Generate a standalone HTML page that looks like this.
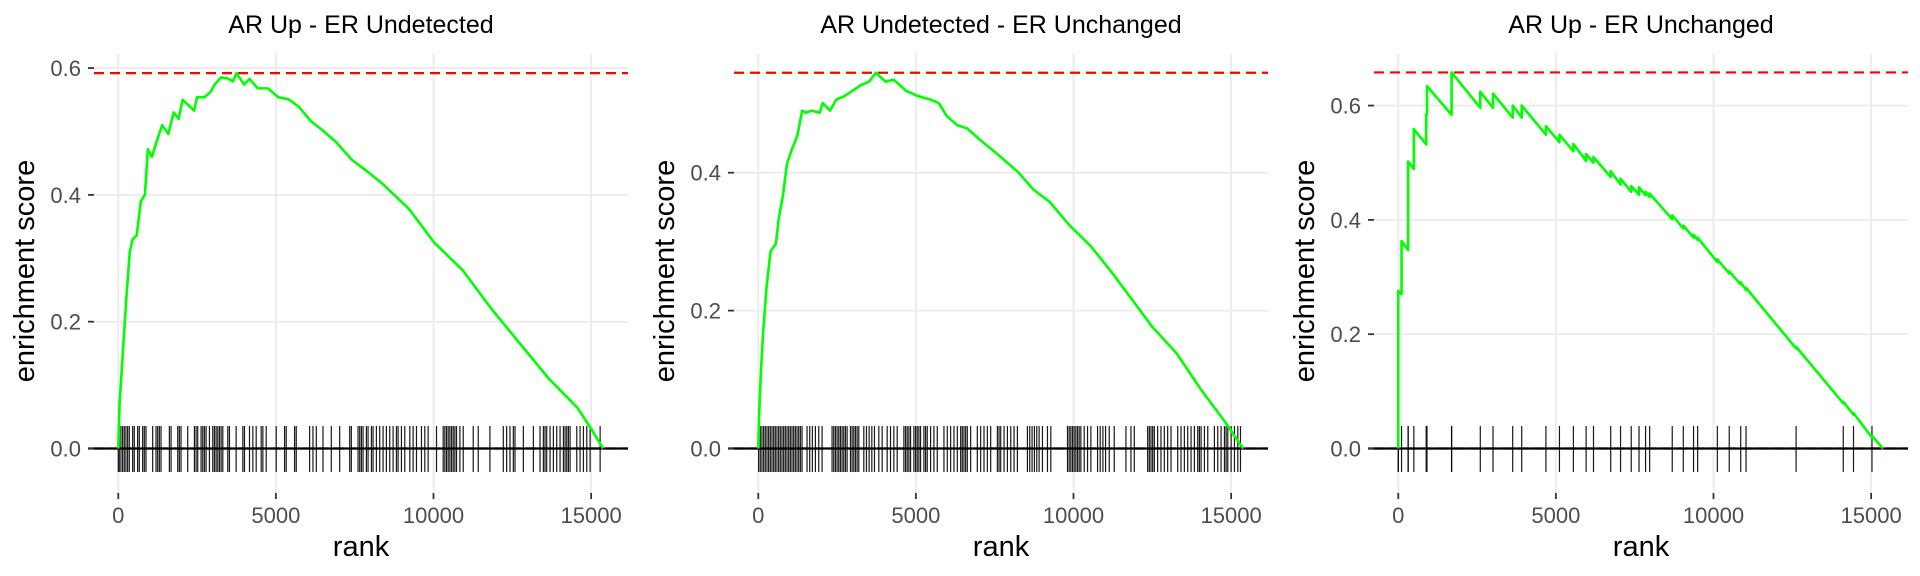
<!DOCTYPE html>
<html><head><meta charset="utf-8">
<style>
html,body{margin:0;padding:0;background:#fff;}
svg{display:block;font-family:"Liberation Sans",Arial,sans-serif;}
</style></head>
<body>
<svg id="chart" width="1920" height="576" viewBox="0 0 1920 576" xmlns="http://www.w3.org/2000/svg"></svg>
<script>
// ---- data ----
const titles = ["AR Up - ER Undetected", "AR Undetected - ER Unchanged", "AR Up - ER Unchanged"];
const xTicks = [0, 5000, 10000, 15000];
const yTicks1 = [0.0, 0.2, 0.4, 0.6];
const yTicks2 = [0.0, 0.2, 0.4];
const yTicks3 = [0.0, 0.2, 0.4, 0.6];
const maxES = [0.592, 0.545, 0.658];
const nGenes = 15378;

const ranks1 = [0,40,130,260,364,455,585,715,845,937,1067,1236,1392,1587,1756,1912,2043,2212,2407,2498,2732,2927,3057,3252,3448,3643,3747,3995,4164,4424,4749,5074,5400,5725,6115,6505,6895,7416,7871,8392,9237,10018,10929,11840,12750,13661,14572,15027,15378];
const es1 = [0,0.07,0.14,0.24,0.31,0.33,0.336,0.39,0.40,0.472,0.46,0.487,0.51,0.496,0.53,0.52,0.55,0.542,0.533,0.554,0.554,0.562,0.574,0.585,0.584,0.579,0.592,0.574,0.583,0.568,0.568,0.554,0.551,0.539,0.516,0.501,0.484,0.455,0.438,0.417,0.377,0.325,0.281,0.22,0.165,0.11,0.064,0.029,0];
const hits1 = [0,32,85,138,191,244,297,350,456,508,614,667,773,826,879,1091,1197,1250,1303,1356,1621,1674,1886,1938,1991,2203,2415,2468,2521,2627,2680,2733,2786,2892,2998,3051,3104,3157,3210,3263,3316,3474,3527,3739,3951,4004,4163,4269,4375,4534,4587,4693,5010,5275,5328,5593,5646,6070,6176,6282,6494,6758,7023,7341,7394,7606,7659,7712,7765,7871,7924,8030,8083,8188,8294,8400,8506,8612,8718,8824,8877,8983,9089,9248,9354,9460,9618,9724,9830,10095,10307,10360,10413,10466,10519,10572,10625,10678,10731,10837,10943,11260,11419,11790,12214,12320,12426,12532,12585,12850,13168,13379,13485,13538,13591,13697,13803,13909,14015,14121,14174,14227,14280,14333,14545,14650,14756,14862,14968,15286];

const ranks2 = [0,26,78,156,260,390,559,650,781,911,1067,1236,1392,1522,1691,1951,2043,2277,2472,2732,2992,3252,3513,3734,4034,4294,4684,5074,5465,5725,5985,6310,6635,7026,7611,8262,8717,9237,9888,10538,11189,11840,12490,13271,14052,14832,15378];
const es2 = [0,0.048,0.106,0.17,0.233,0.286,0.297,0.334,0.366,0.413,0.434,0.453,0.49,0.487,0.49,0.487,0.501,0.49,0.506,0.511,0.519,0.527,0.532,0.545,0.532,0.535,0.519,0.511,0.506,0.501,0.482,0.469,0.464,0.448,0.426,0.4,0.376,0.358,0.323,0.294,0.257,0.217,0.177,0.138,0.085,0.037,0];
const hits2 = [11,64,117,170,223,276,329,382,435,488,540,593,646,699,752,805,858,911,964,1017,1070,1123,1176,1229,1282,1335,1388,1547,1632,1716,1812,1918,2024,2341,2394,2447,2500,2553,2606,2659,2712,2765,2818,2924,2977,3030,3083,3136,3189,3348,3432,3517,3602,3686,3824,3930,4089,4195,4301,4407,4619,4672,4725,4778,4831,4937,4990,5043,5096,5148,5254,5307,5360,5466,5572,5678,5890,5996,6102,6208,6314,6420,6472,6525,6578,6631,6737,6949,7055,7161,7267,7373,7585,7638,7691,7797,7903,8009,8114,8220,8538,8612,8686,8760,8834,8909,9015,9174,9280,9809,9862,9915,9968,10021,10074,10127,10180,10233,10339,10445,10551,10763,10847,10932,11017,11134,11292,11663,11822,11928,12352,12405,12458,12511,12564,12669,12775,12881,12987,13093,13305,13411,13517,13623,13729,13835,13941,13994,14047,14153,14259,14470,14576,14682,14788,14841,14894,15000,15106,15212,15297];

const hits3 = [0,0,104,312,312,494,885,911,1691,1691,2602,3005,3630,3916,4684,5113,5555,5959,6193,6739,7051,7390,7637,7845,7975,8691,9042,9367,9497,10122,10499,10863,11032,12620,14116,14441,15027];
const low3 = [0,0.138,0.27,0.347,0.425,0.489,0.532,0.584,0.584,0.62,0.596,0.596,0.579,0.579,0.549,0.536,0.52,0.503,0.5,0.475,0.462,0.449,0.444,0.443,0.44,0.401,0.385,0.369,0.365,0.326,0.306,0.287,0.277,0.175,0.079,0.059,0.019];
const high3 = [0.138,0.276,0.363,0.425,0.502,0.559,0.584,0.634,0.62,0.658,0.624,0.621,0.6,0.6,0.564,0.549,0.533,0.515,0.51,0.485,0.472,0.459,0.457,0.449,0.446,0.408,0.39,0.374,0.369,0.331,0.31,0.291,0.281,0.178,0.082,0.062,0.022];

// ---- rendering ----
const NS = "http://www.w3.org/2000/svg";
const svg = document.getElementById("chart");
function mk(tag, attrs, parent) {
  const e = document.createElementNS(NS, tag);
  for (const k in attrs) e.setAttribute(k, attrs[k]);
  (parent || svg).appendChild(e);
  return e;
}

const ranks3 = [], es3 = [];
for (let i = 0; i < hits3.length; i++) {
  ranks3.push(hits3[i]); es3.push(low3[i]);
  ranks3.push(hits3[i]); es3.push(high3[i]);
}
ranks3.push(nGenes); es3.push(0);

const panels = [
  {ranks: ranks1, es: es1, hits: hits1, yTicks: yTicks1, ymin: -0.0702, ymax: 0.6238},
  {ranks: ranks2, es: es2, hits: hits2, yTicks: yTicks2, ymin: -0.0645, ymax: 0.5736},
  {ranks: ranks3, es: es3, hits: hits3, yTicks: yTicks3, ymin: -0.0779, ymax: 0.692}
];

const PL = 94, PR = 628, PT = 53, PB = 493;
const XMIN = -770, XMAX = 16170;

panels.forEach((p, i) => {
  const ox = i * 640;
  const g = mk("g", {transform: "translate(" + ox + ",0)"});
  
  
  const xs = v => PL + (v - XMIN) / (XMAX - XMIN) * (PR - PL);
  const ys = v => PB - (v - p.ymin) / (p.ymax - p.ymin) * (PB - PT);

  xTicks.forEach(t => {
    const l = mk("line", {x1: xs(t), x2: xs(t), y1: PT, y2: PB, stroke: "#ebebeb", "stroke-width": 1.8}, g);
    
    
  });
  p.yTicks.forEach(t => {
    const l = mk("line", {x1: PL, x2: PR, y1: ys(t), y2: ys(t), stroke: "#ebebeb", "stroke-width": 1.8}, g);
    
    
  });

  const y0 = ys(0);
  p.hits.forEach(h => {
    const l = mk("line", {x1: xs(h), x2: xs(h), y1: y0 - 22.5, y2: y0 + 23.5, stroke: "#000", "stroke-opacity": 0.9, "stroke-width": 1.2}, g);
    
    
  });

  [maxES[i], 0].forEach((v, k) => {
    const l = mk("line", {x1: PL, x2: PR, y1: ys(v), y2: ys(v), stroke: "#ff0000", "stroke-width": 2.2, "stroke-dasharray": "10,6"}, g);
    
    
  });
  const zl = mk("line", {x1: PL - 6, x2: PR, y1: y0, y2: y0, stroke: "#000", "stroke-width": 2.2}, g);
  
  

  let d = "";
  p.ranks.forEach((r, k) => { d += (k ? "L" : "M") + xs(r).toFixed(2) + "," + ys(p.es[k]).toFixed(2); });
  const path = mk("path", {d: d, fill: "none", stroke: "#00ff00", "stroke-width": 2.6, "stroke-linejoin": "round"}, g);
  
  

  xTicks.forEach(t => {
    const tk = mk("line", {x1: xs(t), x2: xs(t), y1: PB, y2: PB + 6, stroke: "#333", "stroke-width": 1.8}, g);
    
    
    const tx = mk("text", {x: xs(t), y: 523, "text-anchor": "middle", "font-size": 22, fill: "#4d4d4d"}, g);
    tx.textContent = t;
    
    
  });
  p.yTicks.forEach(t => {
    const tk = mk("line", {x1: PL - 6, x2: PL, y1: ys(t), y2: ys(t), stroke: "#333", "stroke-width": 1.8}, g);
    
    
    const tx = mk("text", {x: 81, y: ys(t) + 8, "text-anchor": "end", "font-size": 22, fill: "#4d4d4d"}, g);
    tx.textContent = t.toFixed(1);
    
    
  });

  const title = mk("text", {x: (PL + PR) / 2, y: 33, "text-anchor": "middle", "font-size": 25, fill: "#000"}, g);
  title.textContent = titles[i];
  
  

  const xt = mk("text", {x: (PL + PR) / 2, y: 556, "text-anchor": "middle", "font-size": 29, fill: "#000"}, g);
  xt.textContent = "rank";
  
  

  const yt = mk("text", {x: 0, y: 0, "text-anchor": "middle", "font-size": 29, fill: "#000", transform: "translate(34," + ((PT + PB) / 2 - 2) + ") rotate(-90)"}, g);
  yt.textContent = "enrichment score";
  
  
});
</script>
</body></html>
